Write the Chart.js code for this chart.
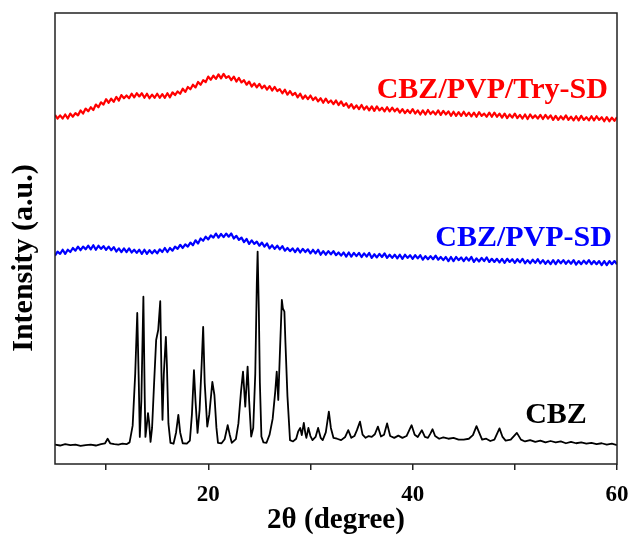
<!DOCTYPE html>
<html>
<head>
<meta charset="utf-8">
<title>XRD patterns</title>
<script src="https://cdn.jsdelivr.net/npm/chart.js@4.4.1/dist/chart.umd.min.js"></script>
<style>
  html, body { margin: 0; padding: 0; background: #ffffff; }
  #wrap { width: 632px; height: 535px; }
</style>
</head>
<body>
<div id="wrap"><canvas id="xrd" width="632" height="535"></canvas></div>
<script>
// Amorphous dispersions: scanned from 5° to 60° 2θ at a 0.25° step
const scanStart = 5;
const scanStep = 0.25;

// CBZ/PVP/Try-SD intensity (offset, a.u.), four points per degree from 5° to 60°
const cbzPvpTrySD = [
  77.4, 76.6, 77.3, 76.6,   77.5, 76.6, 77.7, 77.0,   77.8, 77.3, 78.4, 77.7,
  78.8, 78.2, 79.1, 78.5,   79.7, 79.1, 80.2, 79.7,   80.9, 80.1, 81.0, 80.3,
  81.4, 80.6, 81.8, 81.1,   81.7, 81.1, 82.1, 81.3,   82.2, 81.5, 82.2, 81.2,
  82.1, 81.1, 81.9, 81.2,   82.1, 81.2, 82.0, 81.2,   82.2, 81.3, 82.4, 81.8,
  82.6, 82.1, 83.2, 82.5,   83.6, 83.1, 84.1, 83.5,   84.7, 84.1, 85.1, 84.7,
  85.9, 85.2, 86.1, 85.4,   86.4, 85.5, 86.5, 85.6,   86.0, 85.1, 85.9, 84.8,
  85.6, 84.6, 85.1, 84.1,   84.8, 83.7, 84.4, 83.5,   84.3, 83.3, 83.9, 83.0,
  83.8, 82.8, 83.6, 82.7,   83.1, 82.2, 83.0, 81.9,   82.7, 81.8, 82.3, 81.3,
  82.1, 81.0, 81.7, 80.9,   81.7, 80.7, 81.3, 80.4,   81.1, 80.1, 81.0, 80.1,
  80.6, 79.8, 80.6, 79.6,   80.4, 79.4, 80.0, 79.0,   79.8, 78.8, 79.5, 78.7,
  79.6, 78.6, 79.3, 78.4,   79.3, 78.3, 79.3, 78.4,   79.0, 78.2, 79.1, 78.2,
  79.0, 78.2, 78.8, 77.9,   78.7, 77.8, 78.5, 77.8,   78.7, 77.7, 78.4, 77.5,
  78.4, 77.5, 78.5, 77.6,   78.2, 77.5, 78.4, 77.4,   78.3, 77.5, 78.2, 77.2,
  78.1, 77.2, 78.0, 77.2,   78.1, 77.2, 77.9, 77.1,   77.9, 77.0, 78.0, 77.2,
  77.7, 77.0, 77.9, 77.0,   77.9, 77.0, 77.7, 76.8,   77.7, 76.7, 77.5, 76.8,
  77.7, 76.7, 77.4, 76.6,   77.5, 76.5, 77.5, 76.7,   77.3, 76.6, 77.4, 76.5,
  77.4, 76.6, 77.3, 76.3,   77.2, 76.3, 77.1, 76.4,   77.3, 76.3, 77.0, 76.2,
  77.1, 76.2, 77.2, 76.3,   76.9, 76.2, 77.1, 76.2,   77.1, 76.3, 76.9, 76.0,
  76.9, 76.0, 76.8, 76.1,
  76.9
];

// CBZ/PVP-SD intensity (offset, a.u.), same 2θ steps
const cbzPvpSD = [
  46.2, 47.1, 46.6, 47.5,   46.6, 47.5, 47.0, 47.9,   47.3, 48.2, 47.4, 48.2,
  47.6, 48.4, 47.6, 48.5,   47.5, 48.4, 47.7, 48.3,   47.5, 48.2, 47.4, 48.1,
  47.1, 47.8, 47.0, 47.8,   47.0, 47.8, 46.9, 47.5,   46.8, 47.5, 46.6, 47.5,
  46.6, 47.4, 46.7, 47.4,   46.7, 47.6, 47.0, 47.9,   47.0, 47.9, 47.3, 48.2,
  47.7, 48.6, 47.9, 48.7,   48.2, 49.1, 48.5, 49.6,   48.9, 50.0, 49.5, 50.4,
  49.8, 50.7, 50.2, 51.1,   50.2, 51.0, 50.3, 51.1,   50.4, 51.1, 50.0, 50.6,
  49.7, 50.2, 49.2, 49.9,   48.8, 49.6, 48.8, 49.3,   48.4, 49.1, 48.2, 48.9,
  47.8, 48.5, 47.7, 48.4,   47.6, 48.3, 47.3, 47.9,   47.2, 47.8, 47.0, 47.8,
  46.9, 47.7, 47.0, 47.6,   46.7, 47.5, 46.7, 47.5,   46.4, 47.2, 46.4, 47.2,
  46.5, 47.2, 46.3, 46.9,   46.2, 46.9, 46.0, 46.9,   46.0, 46.8, 46.1, 46.8,
  45.9, 46.7, 46.0, 46.8,   45.7, 46.5, 45.8, 46.6,   45.9, 46.7, 45.7, 46.4,
  45.7, 46.4, 45.6, 46.4,   45.5, 46.4, 45.7, 46.3,   45.5, 46.3, 45.6, 46.3,
  45.3, 46.1, 45.4, 46.1,   45.4, 46.2, 45.3, 45.9,   45.2, 45.9, 45.0, 45.9,
  45.0, 45.9, 45.2, 45.8,   45.0, 45.8, 45.1, 45.9,   44.8, 45.6, 44.9, 45.7,
  45.0, 45.8, 44.8, 45.5,   44.8, 45.5, 44.7, 45.5,   44.6, 45.5, 44.8, 45.4,
  44.6, 45.4, 44.7, 45.5,   44.5, 45.2, 44.5, 45.3,   44.6, 45.4, 44.5, 45.2,
  44.4, 45.1, 44.3, 45.2,   44.3, 45.2, 44.5, 45.2,   44.4, 45.1, 44.4, 45.2,
  44.2, 45.0, 44.3, 45.1,   44.4, 45.2, 44.3, 45.0,   44.3, 45.0, 44.1, 45.0,
  44.1, 45.0, 44.3, 45.0,
  44.3
];

// Crystalline CBZ: 2θ positions (°) and intensities (a.u.)
const cbzTheta = [
  5.0, 5.5, 6.0, 6.5, 7.0, 7.5, 8.0, 8.5, 9.0, 9.5, 9.9, 10.15, 10.4, 10.8, 11.2, 11.6, 12.0,
  12.3, 12.6, 12.85, 13.05, 13.2, 13.3, 13.45, 13.65, 13.78, 13.85, 14.0, 14.1, 14.2, 14.35,
  14.5, 14.7, 14.9, 15.1, 15.3, 15.42, 15.52, 15.65, 15.85, 15.95, 16.1, 16.3, 16.6, 16.85,
  17.07, 17.25, 17.5, 17.9, 18.2, 18.4, 18.6, 18.75, 18.95, 19.15, 19.35, 19.5, 19.65, 19.9,
  20.1, 20.4, 20.6, 20.8, 20.95, 21.3, 21.6, 21.9, 22.1, 22.3, 22.7, 22.95, 23.2, 23.4, 23.62,
  23.85, 24.0, 24.2, 24.4, 24.6, 24.75, 24.83, 24.95, 25.05, 25.2, 25.4, 25.7, 26.0, 26.3,
  26.55, 26.7, 26.85, 27.0, 27.2, 27.3, 27.45, 27.55, 27.75, 28.0, 28.3, 28.6, 28.8, 29.0,
  29.15, 29.35, 29.5, 29.6, 29.8, 30.0, 30.2, 30.5, 30.75, 31.0, 31.2, 31.5, 31.8, 32.0,
  32.25, 32.6, 33.0, 33.4, 33.7, 34.0, 34.3, 34.55, 34.85, 35.1, 35.4, 35.7, 36.0, 36.3,
  36.6, 36.9, 37.2, 37.5, 37.8, 38.2, 38.6, 39.0, 39.4, 39.65, 39.9, 40.2, 40.5, 40.9, 41.2,
  41.5, 41.75, 41.95, 42.2, 42.6, 43.0, 43.5, 44.0, 44.5, 45.0, 45.5, 45.9, 46.25, 46.5,
  46.8, 47.2, 47.6, 48.0, 48.5, 48.8, 49.1, 49.6, 50.2, 50.6, 51.0, 51.5, 52.0, 52.5, 53.0,
  53.5, 54.0, 54.5, 55.0, 55.5, 56.0, 56.5, 57.0, 57.5, 58.0, 58.5, 59.0, 59.5, 60.0
];
const cbzIntensity = [
  4.3, 4.1, 4.4, 4.2, 4.3, 4.0, 4.2, 4.3, 4.1, 4.4, 4.6, 5.6, 4.6, 4.4, 4.3, 4.5, 4.4,
  4.8, 8.5, 20.0, 33.5, 18.0, 6.0, 14.0, 37.1, 15.0, 6.0, 9.0, 11.3, 9.5, 4.9,
  8.0, 18.0, 27.5, 29.7, 36.1, 20.0, 9.8, 20.0, 28.2, 22.0, 9.0, 4.7, 4.5, 7.0,
  10.9, 7.0, 4.6, 4.5, 5.2, 11.0, 20.8, 14.0, 6.9, 12.0, 22.0, 30.4, 18.0, 8.3,
  11.0, 18.2, 15.3, 8.0, 4.7, 4.6, 5.5, 8.6, 6.5, 4.7, 5.5, 9.0, 16.0, 20.5, 12.7,
  21.6, 14.0, 6.1, 8.0, 20.0, 40.0, 47.1, 34.0, 18.0, 6.1, 4.8, 4.7, 6.5, 10.0,
  16.0, 20.5, 14.2, 24.0, 36.4, 34.5, 33.8, 27.0, 15.0, 5.3, 5.0, 5.6, 7.2, 8.0,
  6.4, 9.1, 6.8, 5.8, 8.0, 6.2, 5.3, 6.0, 8.0, 5.8, 5.3, 7.0, 11.6, 8.0,
  5.8, 5.6, 5.3, 6.0, 7.5, 5.8, 6.2, 7.5, 9.4, 6.5, 5.8, 6.2, 6.0, 6.6,
  8.3, 6.1, 6.5, 9.0, 6.2, 5.8, 6.3, 5.8, 6.2, 7.4, 8.6, 6.5, 6.0, 7.5, 6.0,
  5.8, 6.8, 7.7, 6.2, 5.6, 5.9, 5.6, 5.8, 5.4, 5.4, 5.6, 6.4, 8.4, 7.0,
  5.4, 5.6, 5.1, 5.4, 7.9, 6.0, 5.2, 5.4, 6.9, 5.4, 5.0, 5.3, 4.9, 5.2, 4.8,
  5.1, 4.8, 5.0, 4.6, 4.9, 4.6, 4.8, 4.5, 4.7, 4.4, 4.6, 4.3, 4.5, 4.2
];

const xTickValues = [10, 20, 30, 40, 50, 60];
const seriesNames = ['CBZ/PVP/Try-SD', 'CBZ/PVP-SD', 'CBZ'];

const scanTheta = cbzPvpSD.map((_, i) => scanStart + i * scanStep);
const toPoints = (xs, ys) => ys.map((y, i) => ({ x: xs[i], y }));

const serifFamily = "'Liberation Serif', 'Times New Roman', serif";
const serifBold = (size) => ({ family: serifFamily, size, weight: 'bold' });

// Frame around the plot area
const framePlugin = {
  id: 'frame',
  afterDatasetsDraw(chart) {
    const { ctx, chartArea: a } = chart;
    ctx.save();
    ctx.strokeStyle = '#222';
    ctx.lineWidth = 1.5;
    ctx.strokeRect(a.left, a.top, a.right - a.left, a.bottom - a.top);
    ctx.restore();
  }
};

// Pattern names beside each trace and the rotated intensity title
const annotatePlugin = {
  id: 'annotate',
  afterDraw(chart, args, opts) {
    const { ctx, scales } = chart;
    ctx.save();
    ctx.font = 'bold 30px ' + serifFamily;
    ctx.textAlign = 'right';
    ctx.textBaseline = 'middle';
    opts.tags.forEach((t) => {
      ctx.fillStyle = t.color;
      ctx.fillText(t.text, scales.x.getPixelForValue(t.theta), scales.y.getPixelForValue(t.level));
    });
    ctx.translate(opts.yTitle.x, opts.yTitle.y);
    ctx.rotate(-Math.PI / 2);
    ctx.textAlign = 'center';
    ctx.fillStyle = '#000';
    ctx.fillText(opts.yTitle.text, 0, 0);
    ctx.restore();
  }
};

new Chart(document.getElementById('xrd'), {
  type: 'line',
  data: {
    datasets: [
      { label: seriesNames[0], data: toPoints(scanTheta, cbzPvpTrySD), borderColor: '#ff0000', borderWidth: 2.2 },
      { label: seriesNames[1], data: toPoints(scanTheta, cbzPvpSD), borderColor: '#0000ff', borderWidth: 2.2 },
      { label: seriesNames[2], data: toPoints(cbzTheta, cbzIntensity), borderColor: '#000000', borderWidth: 1.8 }
    ]
  },
  options: {
    responsive: false,
    animation: false,
    parsing: false,
    normalized: true,
    elements: { point: { radius: 0 }, line: { tension: 0, borderJoinStyle: 'round' } },
    layout: { padding: { top: 13, right: 15, left: 0, bottom: 0 } },
    plugins: {
      legend: { display: false },
      tooltip: { enabled: false },
      annotate: {
        tags: [
          { text: seriesNames[0], color: '#ff0000', theta: 59.1, level: 82.9 },
          { text: seriesNames[1], color: '#0000ff', theta: 59.5, level: 50.1 },
          { text: seriesNames[2], color: '#000000', theta: 57.05, level: 10.9 }
        ],
        yTitle: { text: 'Intensity (a.u.)', x: 24, y: 258 }
      }
    },
    scales: {
      x: {
        type: 'linear',
        min: 5,
        max: 60,
        afterFit(scale) { scale.height = 71; scale.paddingLeft = 0; scale.paddingRight = 0; },
        afterBuildTicks(scale) { scale.ticks = xTickValues.map((v) => ({ value: v })); },
        border: { display: false },
        grid: { drawOnChartArea: false, drawTicks: true, tickLength: 6, color: '#222', lineWidth: 1.5 },
        ticks: {
          autoSkip: false,
          maxRotation: 0,
          padding: 11,
          color: '#000',
          font: serifBold(23),
          callback: (v) => (v % 20 === 0 ? String(v) : '')
        },
        title: { display: true, text: '2θ (degree)', color: '#000', font: serifBold(29), padding: { top: 0, bottom: -3 } }
      },
      y: {
        type: 'linear',
        min: 0,
        max: 100,
        afterFit(scale) { scale.width = 55; },
        border: { display: false },
        grid: { display: false },
        ticks: { display: false }
      }
    }
  },
  plugins: [framePlugin, annotatePlugin]
});
</script>
</body>
</html>
